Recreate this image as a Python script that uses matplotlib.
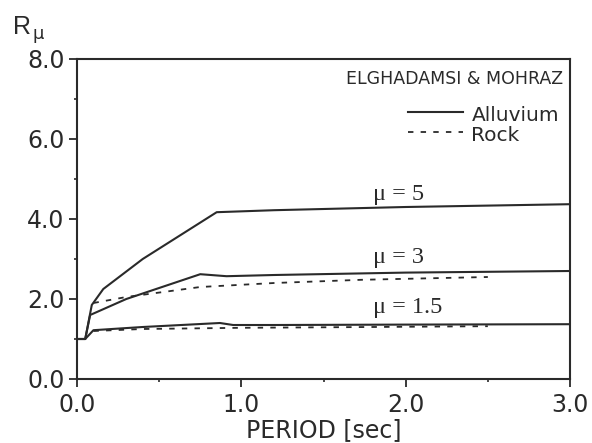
import matplotlib
matplotlib.use('Agg')
from matplotlib import pyplot as plt
from matplotlib.ticker import MultipleLocator

# R_mu vs period, alluvium (solid) and rock (dashed) sites
T_mu5 = [0.0, 0.05, 0.09, 0.16, 0.40, 0.85, 1.20, 2.00, 3.00]
R_mu5 = [1.0, 1.0, 1.85, 2.25, 3.00, 4.17, 4.22, 4.30, 4.37]

T_mu3 = [0.0, 0.05, 0.08, 0.30, 0.75, 0.91, 1.20, 2.00, 3.00]
R_mu3 = [1.0, 1.0, 1.60, 2.00, 2.62, 2.57, 2.60, 2.66, 2.70]

T_mu15 = [0.0, 0.05, 0.10, 0.40, 0.87, 0.95, 1.20, 2.00, 3.00]
R_mu15 = [1.0, 1.0, 1.22, 1.30, 1.40, 1.35, 1.35, 1.36, 1.37]

T_rock3 = [0.10, 0.30, 0.75, 1.20, 1.73, 2.50]
R_rock3 = [1.90, 2.05, 2.30, 2.40, 2.48, 2.55]

T_rock15 = [0.10, 0.40, 1.00, 1.80, 2.50]
R_rock15 = [1.20, 1.25, 1.28, 1.30, 1.32]

mu_labels = ['μ = 5', 'μ = 3', 'μ = 1.5']
mu_label_y = [4.62, 3.05, 1.78]

ink = '#2a2a2a'
plt.rcParams['font.family'] = ['DejaVu Sans']

fig = plt.figure(figsize=(5.92, 4.43), dpi=100)
ax = fig.add_axes([77/592, 1 - 379/443, (570-77)/592, (379-59)/443])

for T, R in [(T_mu5, R_mu5), (T_mu3, R_mu3), (T_mu15, R_mu15)]:
    ax.plot(T, R, '-', color=ink, lw=1.5)
for T, R in [(T_rock3, R_rock3), (T_rock15, R_rock15)]:
    ax.plot(T, R, '--', color=ink, lw=1.3, dashes=(3, 4))

ax.set_xlim(0, 3.0)
ax.set_ylim(0, 8.0)
ax.xaxis.set_major_locator(MultipleLocator(1.0))
ax.xaxis.set_minor_locator(MultipleLocator(0.5))
ax.yaxis.set_major_locator(MultipleLocator(2.0))
ax.yaxis.set_minor_locator(MultipleLocator(1.0))
ax.xaxis.set_major_formatter(plt.FormatStrFormatter('%.1f'))
ax.yaxis.set_major_formatter(plt.FormatStrFormatter('%.1f'))
ax.tick_params(which='major', direction='out', length=6, width=1.3, color=ink,
               labelsize=17, labelcolor=ink, pad=3)
ax.tick_params(axis='x', which='major', pad=4)
ax.tick_params(which='minor', direction='out', length=2.5, width=1.2, color=ink)
for sp in ax.spines.values():
    sp.set_linewidth(1.5)
    sp.set_color(ink)

ax.set_xlabel('PERIOD [sec]', fontsize=17, color=ink, labelpad=1)
fig.text(13/592, 1 - 34/443, 'R', fontsize=18, color=ink,
         family='Liberation Sans', va='baseline')
fig.text(33/592, 1 - 39/443, 'μ', fontsize=13, color=ink, va='baseline')

ax.text(3.0 - 7/164.3, 7.5, 'ELGHADAMSI & MOHRAZ', ha='right', va='center',
        fontsize=12.5, color=ink)
# legend drawn by hand
ax.plot([2.015, 2.35], [6.68, 6.68], '-', color=ink, lw=1.5)
ax.plot([2.015, 2.35], [6.18, 6.18], '--', color=ink, lw=1.3, dashes=(3, 4))
ax.text(2.40, 6.58, 'Alluvium', va='center', fontsize=14.5, color=ink)
ax.text(2.40, 6.08, 'Rock', va='center', fontsize=14.5, color=ink)

for y, lab in zip(mu_label_y, mu_labels):
    ax.text(1.80, y, lab, fontsize=17.5, color=ink, family='Liberation Serif',
            va='center')

fig.savefig('out.png', dpi=100)
